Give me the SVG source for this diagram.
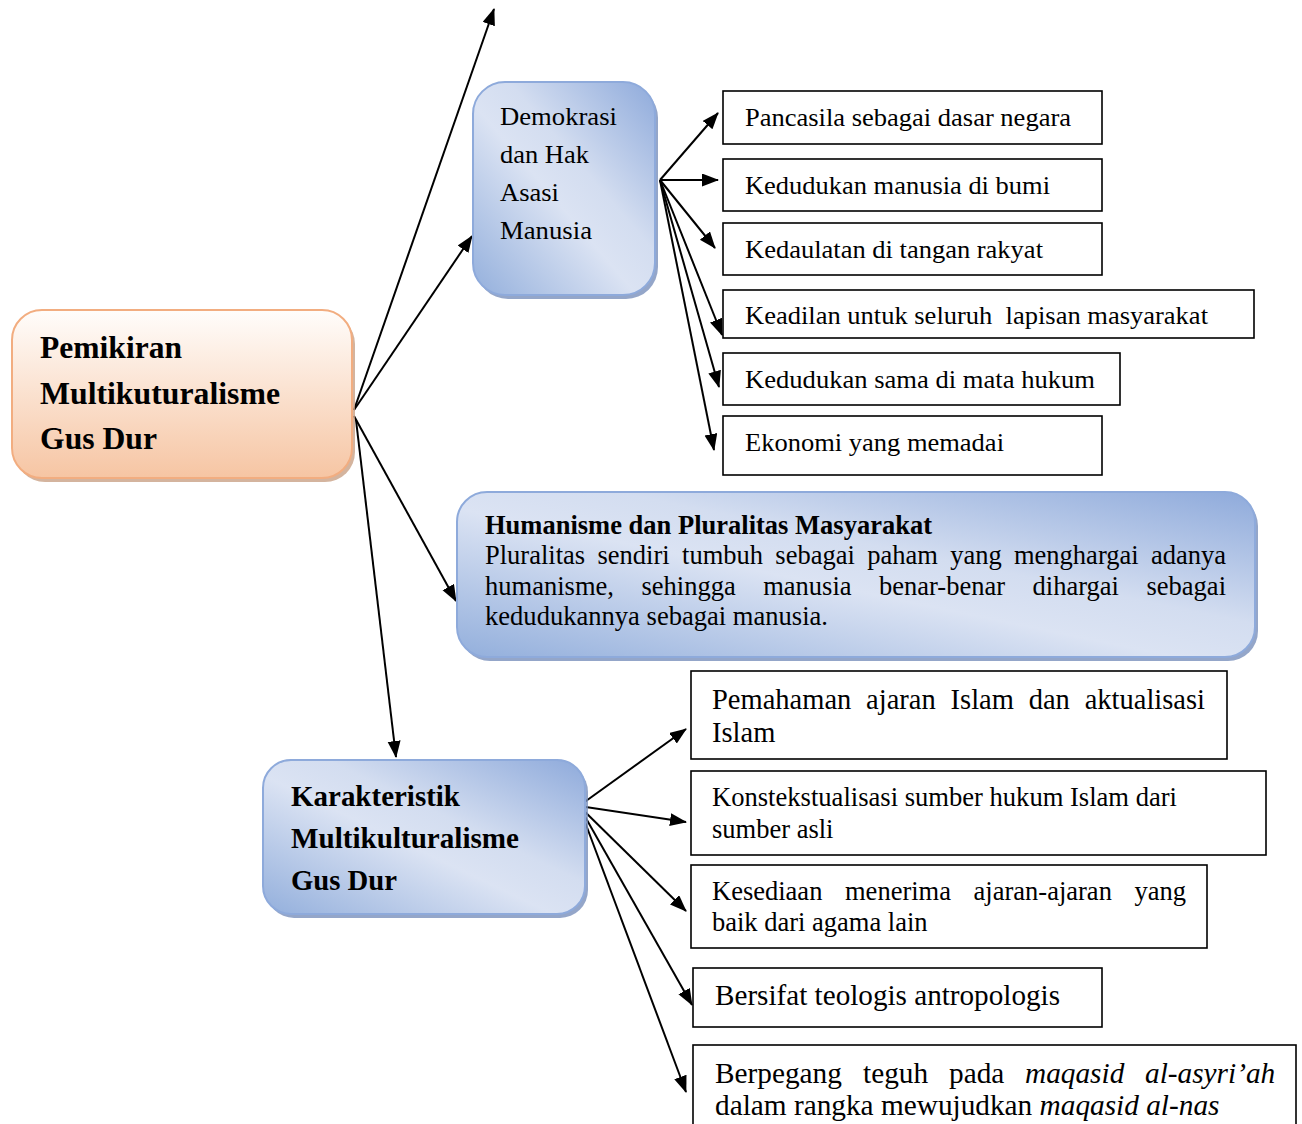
<svg xmlns="http://www.w3.org/2000/svg" width="1302" height="1124" viewBox="0 0 1302 1124">
<defs>
<linearGradient id="peach" x1="0" y1="0" x2="0" y2="1">
<stop offset="0" stop-color="#fffdfb"/>
<stop offset="1" stop-color="#f6c5a3"/>
</linearGradient>
<linearGradient id="blue" x1="0" y1="1" x2="1" y2="0">
<stop offset="0" stop-color="#93afdc"/>
<stop offset="0.45" stop-color="#dbe3f3"/>
<stop offset="0.6" stop-color="#d3ddf0"/>
<stop offset="1" stop-color="#8eaadb"/>
</linearGradient>
<marker id="arr" markerUnits="userSpaceOnUse" markerWidth="18" markerHeight="14" refX="16" refY="6.5" orient="auto">
<path d="M0,0 L17,6.5 L0,13 z" fill="#000"/>
</marker>
<style>
.t{font-family:"Liberation Serif","Times New Roman",serif;fill:#000}
.b{font-weight:bold}
.box{fill:#fff;stroke:#000;stroke-width:1.6}
.pn{fill:url(#peach);stroke:#f2ad80;stroke-width:2}
.ps{fill:#c9a186;opacity:0.8}
.bn{fill:url(#blue);stroke:#8eaadb;stroke-width:2}
.bs{fill:#7990bb;opacity:0.8}
.c{fill:none;stroke:#000;stroke-width:2;marker-end:url(#arr)}
</style>
</defs>

<g id="connectors">
<line class="c" x1="354" y1="410" x2="494" y2="9"/>
<line class="c" x1="354" y1="410" x2="472" y2="236"/>
<line class="c" x1="354" y1="416" x2="456" y2="601"/>
<line class="c" x1="356" y1="420" x2="396" y2="757"/>
<line class="c" x1="660" y1="180" x2="718" y2="113"/>
<line class="c" x1="660" y1="180" x2="718" y2="180"/>
<line class="c" x1="660" y1="180" x2="715" y2="248"/>
<line class="c" x1="660" y1="180" x2="722" y2="335"/>
<line class="c" x1="660" y1="180" x2="719" y2="387"/>
<line class="c" x1="660" y1="180" x2="714" y2="450"/>
<line class="c" x1="579" y1="806" x2="686" y2="729"/>
<line class="c" x1="579" y1="806" x2="686" y2="822"/>
<line class="c" x1="579" y1="806" x2="686" y2="911"/>
<line class="c" x1="579" y1="806" x2="692" y2="1005"/>
<line class="c" x1="579" y1="806" x2="686" y2="1092"/>
<line x1="572" y1="805" x2="582" y2="815" stroke="#000" stroke-width="1.5"/>
</g>

<g id="main">
<rect class="ps" x="15" y="314" width="340" height="168" rx="30"/>
<rect class="pn" x="12" y="310" width="340" height="168" rx="30"/>
<text class="t b" font-size="31" x="40" y="358" textLength="142" lengthAdjust="spacingAndGlyphs">Pemikiran</text>
<text class="t b" font-size="31" x="40" y="404" textLength="240" lengthAdjust="spacingAndGlyphs">Multikuturalisme</text>
<text class="t b" font-size="31" x="40" y="449" textLength="117" lengthAdjust="spacingAndGlyphs">Gus Dur</text>
</g>

<g id="demokrasi">
<rect class="bs" x="476" y="86" width="182" height="213" rx="32"/>
<rect class="bn" x="473" y="82" width="182" height="213" rx="32"/>
<text class="t" font-size="26" x="500" y="125" textLength="117" lengthAdjust="spacingAndGlyphs">Demokrasi</text>
<text class="t" font-size="26" x="500" y="163" textLength="89" lengthAdjust="spacingAndGlyphs">dan Hak</text>
<text class="t" font-size="26" x="500" y="201" textLength="59" lengthAdjust="spacingAndGlyphs">Asasi</text>
<text class="t" font-size="26" x="500" y="239" textLength="92" lengthAdjust="spacingAndGlyphs">Manusia</text>
</g>

<g id="n-pancasila">
<rect class="box" x="723" y="91" width="379" height="53"/>
<text class="t" font-size="26" x="745" y="126" textLength="326" lengthAdjust="spacingAndGlyphs">Pancasila sebagai dasar negara</text>
</g>
<g id="n-kedudukan-bumi">
<rect class="box" x="723" y="159" width="379" height="52"/>
<text class="t" font-size="26" x="745" y="194" textLength="305" lengthAdjust="spacingAndGlyphs">Kedudukan manusia di bumi</text>
</g>
<g id="n-kedaulatan">
<rect class="box" x="723" y="223" width="379" height="52"/>
<text class="t" font-size="26" x="745" y="258" textLength="298" lengthAdjust="spacingAndGlyphs">Kedaulatan di tangan rakyat</text>
</g>
<g id="n-keadilan">
<rect class="box" x="723" y="290" width="531" height="48"/>
<text class="t" font-size="26" x="745" y="324" textLength="463" lengthAdjust="spacingAndGlyphs" xml:space="preserve">Keadilan untuk seluruh  lapisan masyarakat</text>
</g>
<g id="n-kedudukan-hukum">
<rect class="box" x="723" y="353" width="397" height="52"/>
<text class="t" font-size="26" x="745" y="388" textLength="350" lengthAdjust="spacingAndGlyphs">Kedudukan sama di mata hukum</text>
</g>
<g id="n-ekonomi">
<rect class="box" x="723" y="416" width="379" height="59"/>
<text class="t" font-size="26" x="745" y="451" textLength="259" lengthAdjust="spacingAndGlyphs">Ekonomi yang memadai</text>
</g>

<g id="humanisme">
<rect class="bs" x="460" y="496" width="798" height="165" rx="30"/>
<rect class="bn" x="457" y="492" width="798" height="165" rx="30"/>
<text class="t b" font-size="26.5" x="485" y="534" textLength="447" lengthAdjust="spacingAndGlyphs">Humanisme dan Pluralitas Masyarakat</text>
<text class="t" font-size="26.5" x="485" y="564" word-spacing="5.7" textLength="741" lengthAdjust="spacing">Pluralitas sendiri tumbuh sebagai paham yang menghargai adanya</text>
<text class="t" font-size="26.5" x="485" y="595" word-spacing="20.8" textLength="741" lengthAdjust="spacing">humanisme, sehingga manusia benar-benar dihargai sebagai</text>
<text class="t" font-size="26.5" x="485" y="625" textLength="343" lengthAdjust="spacingAndGlyphs">kedudukannya sebagai manusia.</text>
</g>

<g id="karakteristik">
<rect class="bs" x="266" y="764" width="322" height="154" rx="28"/>
<rect class="bn" x="263" y="760" width="322" height="154" rx="28"/>
<text class="t b" font-size="29" x="291" y="806" textLength="169" lengthAdjust="spacingAndGlyphs">Karakteristik</text>
<text class="t b" font-size="29" x="291" y="848" textLength="228" lengthAdjust="spacingAndGlyphs">Multikulturalisme</text>
<text class="t b" font-size="29" x="291" y="890" textLength="106" lengthAdjust="spacingAndGlyphs">Gus Dur</text>
</g>

<g id="n-pemahaman">
<rect class="box" x="691" y="671" width="536" height="88"/>
<text class="t" font-size="28.5" x="712" y="709" word-spacing="7.7" textLength="493" lengthAdjust="spacing">Pemahaman ajaran Islam dan aktualisasi</text>
<text class="t" font-size="28.5" x="712" y="742">Islam</text>
</g>
<g id="n-konstekstualisasi">
<rect class="box" x="691" y="771" width="575" height="84"/>
<text class="t" font-size="26.5" x="712" y="806" textLength="465" lengthAdjust="spacingAndGlyphs">Konstekstualisasi sumber hukum Islam dari</text>
<text class="t" font-size="26.5" x="712" y="838">sumber asli</text>
</g>
<g id="n-kesediaan">
<rect class="box" x="691" y="865" width="516" height="83"/>
<text class="t" font-size="26.5" x="712" y="900" word-spacing="16" textLength="474" lengthAdjust="spacing">Kesediaan menerima ajaran-ajaran yang</text>
<text class="t" font-size="26.5" x="712" y="931">baik dari agama lain</text>
</g>
<g id="n-bersifat">
<rect class="box" x="693" y="968" width="409" height="59"/>
<text class="t" font-size="29" x="715" y="1005" textLength="345" lengthAdjust="spacingAndGlyphs">Bersifat teologis antropologis</text>
</g>
<g id="n-berpegang">
<rect class="box" x="693" y="1045" width="603" height="100"/>
<text class="t" font-size="29.3" y="1083"><tspan x="715">Berpegang</tspan><tspan x="863">teguh</tspan><tspan x="949">pada</tspan><tspan x="1025" font-style="italic">maqasid</tspan><tspan x="1145" font-style="italic">al-asyri’ah</tspan></text>
<text class="t" font-size="29.3" x="715" y="1115">dalam rangka mewujudkan <tspan font-style="italic">maqasid al-nas</tspan></text>
</g>
</svg>
